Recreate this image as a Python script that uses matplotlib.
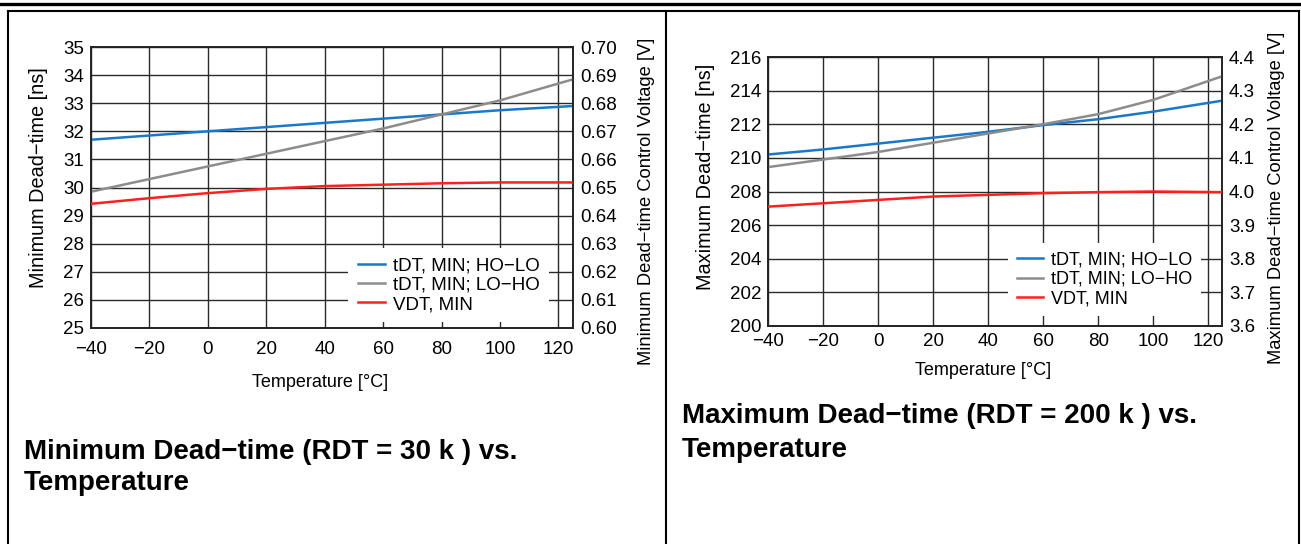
import matplotlib
matplotlib.use("Agg")
import matplotlib.pyplot as plt
from matplotlib.lines import Line2D
from matplotlib.ticker import FormatStrFormatter, MultipleLocator

plt.rcParams['font.family'] = ['Liberation Sans', 'DejaVu Sans']

# ---------------- data ----------------
temp = [-40, -20, 0, 20, 40, 60, 80, 100, 125]

# Minimum dead-time (RDT = 30 k)
min_holo = [31.70, 31.85, 32.00, 32.15, 32.30, 32.45, 32.60, 32.75, 32.90]
min_loho = [29.85, 30.30, 30.75, 31.20, 31.65, 32.10, 32.60, 33.10, 33.85]
min_vdt = [0.6442, 0.6462, 0.6480, 0.6495, 0.6505, 0.6510, 0.6515, 0.6518, 0.6518]

# Maximum dead-time (RDT = 200 k)
max_holo = [210.20, 210.50, 210.85, 211.20, 211.55, 211.95, 212.30, 212.75, 213.40]
max_loho = [209.45, 209.90, 210.35, 210.90, 211.45, 212.00, 212.60, 213.45, 214.85]
max_vdt = [3.955, 3.965, 3.975, 3.985, 3.990, 3.995, 3.998, 4.000, 3.998]

legend_labels = ["tDT, MIN; HO\u2212LO", "tDT, MIN; LO\u2212HO", "VDT, MIN"]
colors = ["#1a78c8", "#8c8c8c", "#ff1f1f"]

W, H = 1301, 544
fig = plt.figure(figsize=(W / 100, H / 100), dpi=100)


def px_axes(l, t, r, b):
    return fig.add_axes([l / W, 1 - b / H, (r - l) / W, (b - t) / H])


def setup(ax, ax2, ylim, ystep, y2lim, y2step, y2fmt, ylabel, y2label, leg_anchor,
          xpad, xlab_xy, ylab_xy, y2lab_xy, legsize):
    ax.set_xlim(-40, 125)
    ax.set_ylim(*ylim)
    ax.set_xticks([-40, -20, 0, 20, 40, 60, 80, 100, 120])
    ax.yaxis.set_major_locator(MultipleLocator(ystep))
    ax2.set_ylim(*y2lim)
    ax2.yaxis.set_major_locator(MultipleLocator(y2step))
    ax2.yaxis.set_major_formatter(FormatStrFormatter(y2fmt))
    ax.grid(True, color="#2a2a2a", lw=1.0)
    ax.set_axisbelow(True)
    for a in (ax, ax2):
        a.tick_params(length=0, labelsize=13.5, pad=5)
        for s in a.spines.values():
            s.set_color("#222222")
            s.set_linewidth(1.2)
    ax.tick_params(axis="x", pad=xpad)
    ax.set_xlabel("Temperature [\u00b0C]", fontsize=13)
    ax.xaxis.set_label_coords(*xlab_xy)
    ax.set_ylabel(ylabel, fontsize=14.3)
    ax.yaxis.set_label_coords(*ylab_xy)
    ax2.set_ylabel(y2label, fontsize=13.2)
    ax2.yaxis.set_label_coords(*y2lab_xy)
    handles = [Line2D([0], [0], color=c, lw=1.8) for c in colors]
    leg = ax2.legend(handles, legend_labels, loc="lower right", bbox_to_anchor=leg_anchor,
                     fontsize=legsize, frameon=True, fancybox=False, framealpha=1,
                     facecolor="white", edgecolor="none", handlelength=1.45,
                     handletextpad=0.45, labelspacing=0.12, borderpad=0.5,
                     borderaxespad=0)
    leg.set_zorder(5)


# ---- left panel ----
ax = px_axes(91, 47, 573, 328)
ax2 = ax.twinx()
ax.plot(temp, min_holo, color=colors[0], lw=1.8, zorder=3)
ax.plot(temp, min_loho, color=colors[1], lw=1.8, zorder=3)
ax2.plot(temp, min_vdt, color=colors[2], lw=1.8, zorder=3)
setup(ax, ax2, (25, 35), 1, (0.60, 0.70), 0.01, "%.2f",
      "Minimum Dead\u2212time [ns]", "Minimum Dead\u2212time Control Voltage [V]",
      (0.951, 0.02), 9.5, (0.475, -0.165), (-0.089, 0.534), (1.135, 0.452), 13.5)

# ---- right panel ----
bx = px_axes(768, 57, 1222, 326)
bx2 = bx.twinx()
bx.plot(temp, max_holo, color=colors[0], lw=1.8, zorder=3)
bx.plot(temp, max_loho, color=colors[1], lw=1.8, zorder=3)
bx2.plot(temp, max_vdt, color=colors[2], lw=1.8, zorder=3)
setup(bx, bx2, (200, 216), 2, (3.6, 4.4), 0.1, "%.1f",
      "Maximum Dead\u2212time [ns]", "Maximum Dead\u2212time Control Voltage [V]",
      (0.954, 0.037), 5, (0.474, -0.135), (-0.117, 0.554), (1.101, 0.476), 13)

# ---- captions ----
cap_kw = dict(fontsize=20, fontweight="bold", va="baseline", ha="left")
fig.text(24 / W, 1 - 459 / H, "Minimum Dead\u2212time (RDT = 30 k ) vs.", **cap_kw)
fig.text(24 / W, 1 - 490 / H, "Temperature", **cap_kw)
fig.text(682 / W, 1 - 423 / H, "Maximum Dead\u2212time (RDT = 200 k ) vs.", **cap_kw)
fig.text(682 / W, 1 - 457 / H, "Temperature", **cap_kw)

# ---- table borders ----
def fline(x0, y0, x1, y1, lw):
    fig.add_artist(Line2D([x0 / W, x1 / W], [1 - y0 / H, 1 - y1 / H], color="black",
                          lw=lw, transform=fig.transFigure))

fline(0, 4, W, 4, 2.4)
fline(8, 10.5, 1299, 10.5, 1.5)
fline(8, 10.5, 8, H, 1.5)
fline(665.5, 10.5, 665.5, H, 1.5)
fline(1299, 10.5, 1299, H, 1.5)

fig.savefig("out.png", dpi=100)
